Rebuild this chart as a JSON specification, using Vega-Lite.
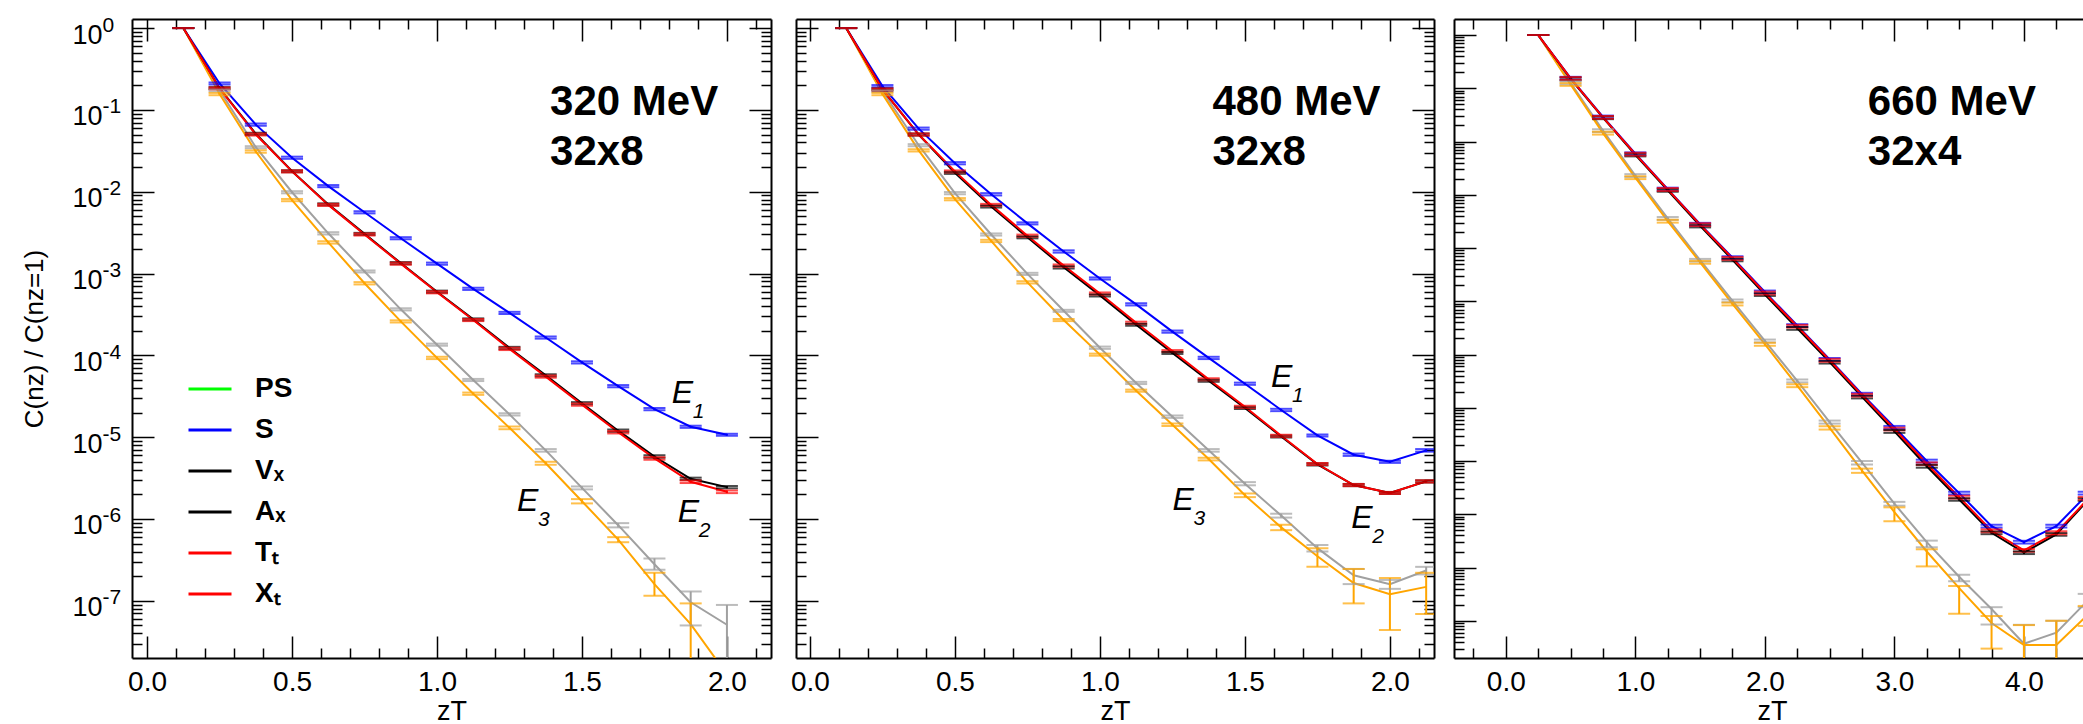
{
"$schema":"https://vega.github.io/schema/vega-lite/v6.json",
"padding":{"left":21,"top":14,"right":0,"bottom":0},
"spacing":18,
"config":{"font":"Liberation Sans","view":{"stroke":null},"axis":{"grid":false,"domainColor":"black","domainWidth":2,"tickColor":"black","tickWidth":1.5,"labelColor":"black","titleColor":"black","labelFont":"Liberation Sans","titleFont":"Liberation Sans","titleFontWeight":"normal","labelOverlap":false,"labelFlush":false,"labelBound":false}},
"resolve":{"scale":{"color":"independent"}},
"datasets":{
"p1":[
{"ch":"G","z":0.125,"v":1,"lo":1,"hi":1},{"ch":"G","z":0.25,"v":0.173,"lo":0.168,"hi":0.178},{"ch":"G","z":0.375,"v":0.035,"lo":0.034,"hi":0.036},{"ch":"G","z":0.5,"v":0.00985,"lo":0.00955,"hi":0.01015},{"ch":"G","z":0.625,"v":0.0031,"lo":0.003,"hi":0.0032},{"ch":"G","z":0.75,"v":0.00106,"lo":0.00103,"hi":0.00109},{"ch":"G","z":0.875,"v":3.65e-4,"lo":3.54e-4,"hi":3.76e-4},{"ch":"G","z":1.0,"v":1.35e-4,"lo":1.31e-4,"hi":1.39e-4},{"ch":"G","z":1.125,"v":5.0e-5,"lo":4.85e-5,"hi":5.15e-5},{"ch":"G","z":1.25,"v":1.9e-5,"lo":1.84e-5,"hi":1.96e-5},{"ch":"G","z":1.375,"v":6.9e-6,"lo":6.65e-6,"hi":7.15e-6},{"ch":"G","z":1.5,"v":2.4e-6,"lo":2.3e-6,"hi":2.5e-6},{"ch":"G","z":1.625,"v":8.4e-7,"lo":7.9e-7,"hi":8.9e-7},{"ch":"G","z":1.75,"v":2.8e-7,"lo":2.4e-7,"hi":3.3e-7},{"ch":"G","z":1.875,"v":9.6e-8,"lo":5.0e-8,"hi":1.3e-7},{"ch":"G","z":2.0,"v":5.1e-8,"lo":1e-9,"hi":8.9e-8},
{"ch":"O","z":0.125,"v":1,"lo":1,"hi":1},{"ch":"O","z":0.25,"v":0.156,"lo":0.151,"hi":0.161},{"ch":"O","z":0.375,"v":0.031,"lo":0.030,"hi":0.032},{"ch":"O","z":0.5,"v":0.0079,"lo":0.00765,"hi":0.00815},{"ch":"O","z":0.625,"v":0.0024,"lo":0.00232,"hi":0.00248},{"ch":"O","z":0.75,"v":7.6e-4,"lo":7.35e-4,"hi":7.85e-4},{"ch":"O","z":0.875,"v":2.6e-4,"lo":2.52e-4,"hi":2.68e-4},{"ch":"O","z":1.0,"v":9.3e-5,"lo":9.0e-5,"hi":9.6e-5},{"ch":"O","z":1.125,"v":3.4e-5,"lo":3.29e-5,"hi":3.51e-5},{"ch":"O","z":1.25,"v":1.3e-5,"lo":1.25e-5,"hi":1.35e-5},{"ch":"O","z":1.375,"v":4.8e-6,"lo":4.6e-6,"hi":5.0e-6},{"ch":"O","z":1.5,"v":1.65e-6,"lo":1.55e-6,"hi":1.75e-6},{"ch":"O","z":1.625,"v":5.6e-7,"lo":5.2e-7,"hi":6.0e-7},{"ch":"O","z":1.75,"v":1.6e-7,"lo":1.15e-7,"hi":2.2e-7},{"ch":"O","z":1.875,"v":5.2e-8,"lo":1e-9,"hi":9.3e-8},{"ch":"O","z":2.0,"v":1.26e-8,"lo":1e-9,"hi":1.8e-8},
{"ch":"S","z":0.125,"v":1,"lo":1,"hi":1},{"ch":"S","z":0.25,"v":0.21,"lo":0.204,"hi":0.216},{"ch":"S","z":0.375,"v":0.066,"lo":0.064,"hi":0.068},{"ch":"S","z":0.5,"v":0.026,"lo":0.0252,"hi":0.0268},{"ch":"S","z":0.625,"v":0.0117,"lo":0.01135,"hi":0.01205},{"ch":"S","z":0.75,"v":0.0056,"lo":0.00543,"hi":0.00577},{"ch":"S","z":0.875,"v":0.0027,"lo":0.00262,"hi":0.00278},{"ch":"S","z":1.0,"v":0.00132,"lo":0.00128,"hi":0.00136},{"ch":"S","z":1.125,"v":6.5e-4,"lo":6.3e-4,"hi":6.7e-4},{"ch":"S","z":1.25,"v":3.3e-4,"lo":3.2e-4,"hi":3.4e-4},{"ch":"S","z":1.375,"v":1.65e-4,"lo":1.6e-4,"hi":1.7e-4},{"ch":"S","z":1.5,"v":8.2e-5,"lo":7.95e-5,"hi":8.45e-5},{"ch":"S","z":1.625,"v":4.2e-5,"lo":4.07e-5,"hi":4.33e-5},{"ch":"S","z":1.75,"v":2.2e-5,"lo":2.13e-5,"hi":2.27e-5},{"ch":"S","z":1.875,"v":1.34e-5,"lo":1.3e-5,"hi":1.38e-5},{"ch":"S","z":2.0,"v":1.07e-5,"lo":1.04e-5,"hi":1.1e-5},
{"ch":"Vₓ","z":0.125,"v":1,"lo":1,"hi":1},{"ch":"Vₓ","z":0.25,"v":0.185,"lo":0.18,"hi":0.19},{"ch":"Vₓ","z":0.375,"v":0.051,"lo":0.0495,"hi":0.0525},{"ch":"Vₓ","z":0.5,"v":0.0178,"lo":0.0173,"hi":0.0183},{"ch":"Vₓ","z":0.625,"v":0.007,"lo":0.0068,"hi":0.0072},{"ch":"Vₓ","z":0.75,"v":0.00305,"lo":0.00296,"hi":0.00314},{"ch":"Vₓ","z":0.875,"v":0.00134,"lo":0.0013,"hi":0.00138},{"ch":"Vₓ","z":1.0,"v":6.0e-4,"lo":5.82e-4,"hi":6.18e-4},{"ch":"Vₓ","z":1.125,"v":2.75e-4,"lo":2.67e-4,"hi":2.83e-4},{"ch":"Vₓ","z":1.25,"v":1.23e-4,"lo":1.19e-4,"hi":1.27e-4},{"ch":"Vₓ","z":1.375,"v":5.7e-5,"lo":5.53e-5,"hi":5.87e-5},{"ch":"Vₓ","z":1.5,"v":2.6e-5,"lo":2.52e-5,"hi":2.68e-5},{"ch":"Vₓ","z":1.625,"v":1.2e-5,"lo":1.16e-5,"hi":1.24e-5},{"ch":"Vₓ","z":1.75,"v":5.8e-6,"lo":5.6e-6,"hi":6.0e-6},{"ch":"Vₓ","z":1.875,"v":3.1e-6,"lo":3.0e-6,"hi":3.2e-6},{"ch":"Vₓ","z":2.0,"v":2.45e-6,"lo":2.37e-6,"hi":2.53e-6},
{"ch":"Tₜ","z":0.125,"v":1,"lo":1,"hi":1},{"ch":"Tₜ","z":0.25,"v":0.183,"lo":0.178,"hi":0.188},{"ch":"Tₜ","z":0.375,"v":0.05,"lo":0.0485,"hi":0.0515},{"ch":"Tₜ","z":0.5,"v":0.0177,"lo":0.0172,"hi":0.0182},{"ch":"Tₜ","z":0.625,"v":0.0069,"lo":0.0067,"hi":0.0071},{"ch":"Tₜ","z":0.75,"v":0.003,"lo":0.00291,"hi":0.00309},{"ch":"Tₜ","z":0.875,"v":0.00132,"lo":0.00128,"hi":0.00136},{"ch":"Tₜ","z":1.0,"v":5.9e-4,"lo":5.72e-4,"hi":6.08e-4},{"ch":"Tₜ","z":1.125,"v":2.7e-4,"lo":2.62e-4,"hi":2.78e-4},{"ch":"Tₜ","z":1.25,"v":1.2e-4,"lo":1.16e-4,"hi":1.24e-4},{"ch":"Tₜ","z":1.375,"v":5.5e-5,"lo":5.33e-5,"hi":5.67e-5},{"ch":"Tₜ","z":1.5,"v":2.5e-5,"lo":2.42e-5,"hi":2.58e-5},{"ch":"Tₜ","z":1.625,"v":1.15e-5,"lo":1.11e-5,"hi":1.19e-5},{"ch":"Tₜ","z":1.75,"v":5.5e-6,"lo":5.3e-6,"hi":5.7e-6},{"ch":"Tₜ","z":1.875,"v":2.85e-6,"lo":2.75e-6,"hi":2.95e-6},{"ch":"Tₜ","z":2.0,"v":2.15e-6,"lo":2.07e-6,"hi":2.23e-6}
],
"p2":[
{"ch":"G","z":0.125,"v":1,"lo":1,"hi":1},{"ch":"G","z":0.25,"v":0.17,"lo":0.165,"hi":0.175},{"ch":"G","z":0.375,"v":0.037,"lo":0.0359,"hi":0.0381},{"ch":"G","z":0.5,"v":0.0096,"lo":0.0093,"hi":0.0099},{"ch":"G","z":0.625,"v":0.003,"lo":0.00291,"hi":0.00309},{"ch":"G","z":0.75,"v":9.9e-4,"lo":9.6e-4,"hi":1.02e-3},{"ch":"G","z":0.875,"v":3.5e-4,"lo":3.4e-4,"hi":3.6e-4},{"ch":"G","z":1.0,"v":1.24e-4,"lo":1.2e-4,"hi":1.28e-4},{"ch":"G","z":1.125,"v":4.6e-5,"lo":4.46e-5,"hi":4.74e-5},{"ch":"G","z":1.25,"v":1.78e-5,"lo":1.72e-5,"hi":1.84e-5},{"ch":"G","z":1.375,"v":6.9e-6,"lo":6.65e-6,"hi":7.15e-6},{"ch":"G","z":1.5,"v":2.7e-6,"lo":2.58e-6,"hi":2.82e-6},{"ch":"G","z":1.625,"v":1.1e-6,"lo":1.04e-6,"hi":1.16e-6},{"ch":"G","z":1.75,"v":4.4e-7,"lo":4.0e-7,"hi":4.8e-7},{"ch":"G","z":1.875,"v":2.05e-7,"lo":1.6e-7,"hi":2.45e-7},{"ch":"G","z":2.0,"v":1.6e-7,"lo":1.4e-7,"hi":1.8e-7},{"ch":"G","z":2.125,"v":2.35e-7,"lo":2.1e-7,"hi":2.6e-7},
{"ch":"O","z":0.125,"v":1,"lo":1,"hi":1},{"ch":"O","z":0.25,"v":0.156,"lo":0.151,"hi":0.161},{"ch":"O","z":0.375,"v":0.032,"lo":0.031,"hi":0.033},{"ch":"O","z":0.5,"v":0.0081,"lo":0.00785,"hi":0.00835},{"ch":"O","z":0.625,"v":0.0025,"lo":0.00242,"hi":0.00258},{"ch":"O","z":0.75,"v":7.8e-4,"lo":7.55e-4,"hi":8.05e-4},{"ch":"O","z":0.875,"v":2.7e-4,"lo":2.62e-4,"hi":2.78e-4},{"ch":"O","z":1.0,"v":1.02e-4,"lo":9.9e-5,"hi":1.05e-4},{"ch":"O","z":1.125,"v":3.7e-5,"lo":3.59e-5,"hi":3.81e-5},{"ch":"O","z":1.25,"v":1.42e-5,"lo":1.37e-5,"hi":1.47e-5},{"ch":"O","z":1.375,"v":5.4e-6,"lo":5.2e-6,"hi":5.6e-6},{"ch":"O","z":1.5,"v":1.95e-6,"lo":1.85e-6,"hi":2.05e-6},{"ch":"O","z":1.625,"v":7.9e-7,"lo":7.3e-7,"hi":8.5e-7},{"ch":"O","z":1.75,"v":3.5e-7,"lo":2.6e-7,"hi":4.4e-7},{"ch":"O","z":1.875,"v":1.65e-7,"lo":9.3e-8,"hi":2.45e-7},{"ch":"O","z":2.0,"v":1.2e-7,"lo":4.4e-8,"hi":1.9e-7},{"ch":"O","z":2.125,"v":1.48e-7,"lo":6.9e-8,"hi":2.2e-7},
{"ch":"S","z":0.125,"v":1,"lo":1,"hi":1},{"ch":"S","z":0.25,"v":0.195,"lo":0.189,"hi":0.201},{"ch":"S","z":0.375,"v":0.059,"lo":0.0572,"hi":0.0608},{"ch":"S","z":0.5,"v":0.0223,"lo":0.0216,"hi":0.023},{"ch":"S","z":0.625,"v":0.0093,"lo":0.009,"hi":0.0096},{"ch":"S","z":0.75,"v":0.0041,"lo":0.00398,"hi":0.00422},{"ch":"S","z":0.875,"v":0.00186,"lo":0.0018,"hi":0.00192},{"ch":"S","z":1.0,"v":8.7e-4,"lo":8.44e-4,"hi":8.96e-4},{"ch":"S","z":1.125,"v":4.2e-4,"lo":4.07e-4,"hi":4.33e-4},{"ch":"S","z":1.25,"v":1.95e-4,"lo":1.89e-4,"hi":2.01e-4},{"ch":"S","z":1.375,"v":9.3e-5,"lo":9.0e-5,"hi":9.6e-5},{"ch":"S","z":1.5,"v":4.5e-5,"lo":4.36e-5,"hi":4.64e-5},{"ch":"S","z":1.625,"v":2.15e-5,"lo":2.08e-5,"hi":2.22e-5},{"ch":"S","z":1.75,"v":1.05e-5,"lo":1.02e-5,"hi":1.08e-5},{"ch":"S","z":1.875,"v":6.1e-6,"lo":5.9e-6,"hi":6.3e-6},{"ch":"S","z":2.0,"v":5.0e-6,"lo":4.85e-6,"hi":5.15e-6},{"ch":"S","z":2.125,"v":6.9e-6,"lo":6.65e-6,"hi":7.15e-6},
{"ch":"Vₓ","z":0.125,"v":1,"lo":1,"hi":1},{"ch":"Vₓ","z":0.25,"v":0.178,"lo":0.173,"hi":0.183},{"ch":"Vₓ","z":0.375,"v":0.05,"lo":0.0485,"hi":0.0515},{"ch":"Vₓ","z":0.5,"v":0.017,"lo":0.0165,"hi":0.0175},{"ch":"Vₓ","z":0.625,"v":0.0066,"lo":0.0064,"hi":0.0068},{"ch":"Vₓ","z":0.75,"v":0.00277,"lo":0.00269,"hi":0.00285},{"ch":"Vₓ","z":0.875,"v":0.00119,"lo":0.00115,"hi":0.00123},{"ch":"Vₓ","z":1.0,"v":5.4e-4,"lo":5.24e-4,"hi":5.56e-4},{"ch":"Vₓ","z":1.125,"v":2.37e-4,"lo":2.3e-4,"hi":2.44e-4},{"ch":"Vₓ","z":1.25,"v":1.07e-4,"lo":1.04e-4,"hi":1.1e-4},{"ch":"Vₓ","z":1.375,"v":4.9e-5,"lo":4.75e-5,"hi":5.05e-5},{"ch":"Vₓ","z":1.5,"v":2.28e-5,"lo":2.21e-5,"hi":2.35e-5},{"ch":"Vₓ","z":1.625,"v":1.02e-5,"lo":9.9e-6,"hi":1.05e-5},{"ch":"Vₓ","z":1.75,"v":4.65e-6,"lo":4.51e-6,"hi":4.79e-6},{"ch":"Vₓ","z":1.875,"v":2.6e-6,"lo":2.52e-6,"hi":2.68e-6},{"ch":"Vₓ","z":2.0,"v":2.08e-6,"lo":2.02e-6,"hi":2.14e-6},{"ch":"Vₓ","z":2.125,"v":2.88e-6,"lo":2.79e-6,"hi":2.97e-6},
{"ch":"Tₜ","z":0.125,"v":1,"lo":1,"hi":1},{"ch":"Tₜ","z":0.25,"v":0.178,"lo":0.173,"hi":0.183},{"ch":"Tₜ","z":0.375,"v":0.05,"lo":0.0485,"hi":0.0515},{"ch":"Tₜ","z":0.5,"v":0.0177,"lo":0.0172,"hi":0.0182},{"ch":"Tₜ","z":0.625,"v":0.0069,"lo":0.0067,"hi":0.0071},{"ch":"Tₜ","z":0.75,"v":0.0029,"lo":0.00281,"hi":0.00299},{"ch":"Tₜ","z":0.875,"v":0.00125,"lo":0.00121,"hi":0.00129},{"ch":"Tₜ","z":1.0,"v":5.7e-4,"lo":5.53e-4,"hi":5.87e-4},{"ch":"Tₜ","z":1.125,"v":2.5e-4,"lo":2.42e-4,"hi":2.58e-4},{"ch":"Tₜ","z":1.25,"v":1.13e-4,"lo":1.1e-4,"hi":1.16e-4},{"ch":"Tₜ","z":1.375,"v":5.1e-5,"lo":4.95e-5,"hi":5.25e-5},{"ch":"Tₜ","z":1.5,"v":2.35e-5,"lo":2.28e-5,"hi":2.42e-5},{"ch":"Tₜ","z":1.625,"v":1.04e-5,"lo":1.01e-5,"hi":1.07e-5},{"ch":"Tₜ","z":1.75,"v":4.7e-6,"lo":4.56e-6,"hi":4.84e-6},{"ch":"Tₜ","z":1.875,"v":2.6e-6,"lo":2.52e-6,"hi":2.68e-6},{"ch":"Tₜ","z":2.0,"v":2.08e-6,"lo":2.02e-6,"hi":2.14e-6},{"ch":"Tₜ","z":2.125,"v":2.88e-6,"lo":2.79e-6,"hi":2.97e-6}
],
"p3":[
{"ch":"G","z":0.25,"v":1,"lo":1,"hi":1},{"ch":"G","z":0.5,"v":0.126,"lo":0.118,"hi":0.134},{"ch":"G","z":0.75,"v":0.016,"lo":0.015,"hi":0.017},{"ch":"G","z":1.0,"v":0.0023,"lo":0.00216,"hi":0.00244},{"ch":"G","z":1.25,"v":3.6e-4,"lo":3.38e-4,"hi":3.82e-4},{"ch":"G","z":1.5,"v":5.9e-5,"lo":5.55e-5,"hi":6.25e-5},{"ch":"G","z":1.75,"v":1.02e-5,"lo":9.6e-6,"hi":1.08e-5},{"ch":"G","z":2.0,"v":1.8e-6,"lo":1.69e-6,"hi":1.91e-6},{"ch":"G","z":2.25,"v":3.2e-7,"lo":3.0e-7,"hi":3.4e-7},{"ch":"G","z":2.5,"v":5.4e-8,"lo":5.05e-8,"hi":5.75e-8},{"ch":"G","z":2.75,"v":9.3e-9,"lo":8.6e-9,"hi":1.0e-8},{"ch":"G","z":3.0,"v":1.58e-9,"lo":1.45e-9,"hi":1.71e-9},{"ch":"G","z":3.25,"v":3.0e-10,"lo":2.4e-10,"hi":3.2e-10},{"ch":"G","z":3.5,"v":6.7e-11,"lo":5.5e-11,"hi":7.3e-11},{"ch":"G","z":3.75,"v":1.66e-11,"lo":8.5e-12,"hi":1.8e-11},{"ch":"G","z":4.0,"v":3.7e-12,"lo":1e-13,"hi":8.4e-12},{"ch":"G","z":4.25,"v":6.0e-12,"lo":1e-13,"hi":1.0e-11},{"ch":"G","z":4.5,"v":2.5e-11,"lo":1.8e-11,"hi":3.2e-11},
{"ch":"O","z":0.25,"v":1,"lo":1,"hi":1},{"ch":"O","z":0.5,"v":0.118,"lo":0.111,"hi":0.125},{"ch":"O","z":0.75,"v":0.0144,"lo":0.0135,"hi":0.0153},{"ch":"O","z":1.0,"v":0.0021,"lo":0.00197,"hi":0.00223},{"ch":"O","z":1.25,"v":3.2e-4,"lo":3.0e-4,"hi":3.4e-4},{"ch":"O","z":1.5,"v":5.4e-5,"lo":5.07e-5,"hi":5.73e-5},{"ch":"O","z":1.75,"v":8.9e-6,"lo":8.36e-6,"hi":9.44e-6},{"ch":"O","z":2.0,"v":1.56e-6,"lo":1.46e-6,"hi":1.66e-6},{"ch":"O","z":2.25,"v":2.6e-7,"lo":2.44e-7,"hi":2.76e-7},{"ch":"O","z":2.5,"v":4.2e-8,"lo":3.9e-8,"hi":4.5e-8},{"ch":"O","z":2.75,"v":6.6e-9,"lo":6.0e-9,"hi":7.2e-9},{"ch":"O","z":3.0,"v":1.1e-9,"lo":7.4e-10,"hi":1.35e-9},{"ch":"O","z":3.25,"v":2.0e-10,"lo":1.05e-10,"hi":2.2e-10},{"ch":"O","z":3.5,"v":4.1e-11,"lo":1.35e-11,"hi":4.5e-11},{"ch":"O","z":3.75,"v":9.1e-12,"lo":3.0e-12,"hi":1.23e-11},{"ch":"O","z":4.0,"v":3.5e-12,"lo":1e-13,"hi":8.3e-12},{"ch":"O","z":4.25,"v":3.5e-12,"lo":1e-13,"hi":1.0e-11},{"ch":"O","z":4.5,"v":1.35e-11,"lo":8e-12,"hi":1.9e-11},
{"ch":"S","z":0.25,"v":1,"lo":1,"hi":1},{"ch":"S","z":0.5,"v":0.155,"lo":0.146,"hi":0.164},{"ch":"S","z":0.75,"v":0.029,"lo":0.0273,"hi":0.0307},{"ch":"S","z":1.0,"v":0.0059,"lo":0.00555,"hi":0.00625},{"ch":"S","z":1.25,"v":0.00128,"lo":0.0012,"hi":0.00136},{"ch":"S","z":1.5,"v":2.8e-4,"lo":2.63e-4,"hi":2.97e-4},{"ch":"S","z":1.75,"v":6.6e-5,"lo":6.2e-5,"hi":7.0e-5},{"ch":"S","z":2.0,"v":1.5e-5,"lo":1.41e-5,"hi":1.59e-5},{"ch":"S","z":2.25,"v":3.5e-6,"lo":3.29e-6,"hi":3.71e-6},{"ch":"S","z":2.5,"v":8.1e-7,"lo":7.6e-7,"hi":8.6e-7},{"ch":"S","z":2.75,"v":1.8e-7,"lo":1.69e-7,"hi":1.91e-7},{"ch":"S","z":3.0,"v":4.3e-8,"lo":4.04e-8,"hi":4.56e-8},{"ch":"S","z":3.25,"v":1.0e-8,"lo":9.4e-9,"hi":1.06e-8},{"ch":"S","z":3.5,"v":2.5e-9,"lo":2.35e-9,"hi":2.65e-9},{"ch":"S","z":3.75,"v":6.0e-10,"lo":5.64e-10,"hi":6.36e-10},{"ch":"S","z":4.0,"v":3.0e-10,"lo":2.82e-10,"hi":3.18e-10},{"ch":"S","z":4.25,"v":6.0e-10,"lo":5.64e-10,"hi":6.36e-10},{"ch":"S","z":4.5,"v":2.5e-9,"lo":2.35e-9,"hi":2.65e-9},
{"ch":"Vₓ","z":0.25,"v":1,"lo":1,"hi":1},{"ch":"Vₓ","z":0.5,"v":0.15,"lo":0.141,"hi":0.159},{"ch":"Vₓ","z":0.75,"v":0.028,"lo":0.0263,"hi":0.0297},{"ch":"Vₓ","z":1.0,"v":0.0056,"lo":0.00526,"hi":0.00594},{"ch":"Vₓ","z":1.25,"v":0.00121,"lo":0.00114,"hi":0.00128},{"ch":"Vₓ","z":1.5,"v":2.6e-4,"lo":2.44e-4,"hi":2.76e-4},{"ch":"Vₓ","z":1.75,"v":6.0e-5,"lo":5.64e-5,"hi":6.36e-5},{"ch":"Vₓ","z":2.0,"v":1.34e-5,"lo":1.26e-5,"hi":1.42e-5},{"ch":"Vₓ","z":2.25,"v":3.1e-6,"lo":2.91e-6,"hi":3.29e-6},{"ch":"Vₓ","z":2.5,"v":7.2e-7,"lo":6.77e-7,"hi":7.63e-7},{"ch":"Vₓ","z":2.75,"v":1.6e-7,"lo":1.5e-7,"hi":1.7e-7},{"ch":"Vₓ","z":3.0,"v":3.6e-8,"lo":3.38e-8,"hi":3.82e-8},{"ch":"Vₓ","z":3.25,"v":8.0e-9,"lo":7.5e-9,"hi":8.5e-9},{"ch":"Vₓ","z":3.5,"v":1.9e-9,"lo":1.79e-9,"hi":2.01e-9},{"ch":"Vₓ","z":3.75,"v":4.5e-10,"lo":4.23e-10,"hi":4.77e-10},{"ch":"Vₓ","z":4.0,"v":1.9e-10,"lo":1.79e-10,"hi":2.01e-10},{"ch":"Vₓ","z":4.25,"v":4.2e-10,"lo":3.95e-10,"hi":4.45e-10},{"ch":"Vₓ","z":4.5,"v":1.9e-9,"lo":1.79e-9,"hi":2.01e-9},
{"ch":"Tₜ","z":0.25,"v":1,"lo":1,"hi":1},{"ch":"Tₜ","z":0.5,"v":0.153,"lo":0.144,"hi":0.162},{"ch":"Tₜ","z":0.75,"v":0.0285,"lo":0.0268,"hi":0.0302},{"ch":"Tₜ","z":1.0,"v":0.0058,"lo":0.00545,"hi":0.00615},{"ch":"Tₜ","z":1.25,"v":0.00126,"lo":0.00118,"hi":0.00134},{"ch":"Tₜ","z":1.5,"v":2.75e-4,"lo":2.59e-4,"hi":2.92e-4},{"ch":"Tₜ","z":1.75,"v":6.4e-5,"lo":6.0e-5,"hi":6.8e-5},{"ch":"Tₜ","z":2.0,"v":1.43e-5,"lo":1.34e-5,"hi":1.52e-5},{"ch":"Tₜ","z":2.25,"v":3.4e-6,"lo":3.2e-6,"hi":3.6e-6},{"ch":"Tₜ","z":2.5,"v":7.8e-7,"lo":7.3e-7,"hi":8.3e-7},{"ch":"Tₜ","z":2.75,"v":1.73e-7,"lo":1.63e-7,"hi":1.83e-7},{"ch":"Tₜ","z":3.0,"v":4.0e-8,"lo":3.76e-8,"hi":4.24e-8},{"ch":"Tₜ","z":3.25,"v":8.9e-9,"lo":8.4e-9,"hi":9.4e-9},{"ch":"Tₜ","z":3.5,"v":2.1e-9,"lo":1.97e-9,"hi":2.23e-9},{"ch":"Tₜ","z":3.75,"v":4.9e-10,"lo":4.6e-10,"hi":5.2e-10},{"ch":"Tₜ","z":4.0,"v":2.1e-10,"lo":1.97e-10,"hi":2.23e-10},{"ch":"Tₜ","z":4.25,"v":4.5e-10,"lo":4.2e-10,"hi":4.8e-10},{"ch":"Tₜ","z":4.5,"v":2.0e-9,"lo":1.88e-9,"hi":2.12e-9}
],
"a1":[{"k":"b","z":1.39,"v":0.087,"t":"320 MeV"},{"k":"b","z":1.39,"v":0.021,"t":"32x8"},{"k":"e","z":1.81,"v":2.63e-5,"t":"E","s":"1"},{"k":"e","z":1.83,"v":9.1e-7,"t":"E","s":"2"},{"k":"e","z":1.276,"v":1.26e-6,"t":"E","s":"3"}],
"a2":[{"k":"b","z":1.388,"v":0.087,"t":"480 MeV"},{"k":"b","z":1.388,"v":0.021,"t":"32x8"},{"k":"e","z":1.59,"v":4.07e-5,"t":"E","s":"1"},{"k":"e","z":1.867,"v":7.8e-7,"t":"E","s":"2"},{"k":"e","z":1.25,"v":1.29e-6,"t":"E","s":"3"}],
"a3":[{"k":"b","z":2.795,"v":0.0319,"t":"660 MeV"},{"k":"b","z":2.795,"v":0.0036,"t":"32x4"}]
},
"hconcat":[
{
"width":639,"height":639,
"data":{"name":"p1"},
"resolve":{"axis":{"x":"independent","y":"independent"}},
"layer":[
{"mark":{"type":"line","strokeWidth":2,"clip":true},
"encoding":{
"x":{"field":"z","type":"quantitative","scale":{"domain":[-0.052,2.152],"zero":false,"nice":false},"axis":{"orient":"bottom","values":[0,0.5,1,1.5,2],"format":".1f","ticks":false,"domain":true,"labelFontSize":28,"labelPadding":10,"title":"zT","titleFontSize":27,"titlePadding":2}},
"y":{"field":"v","type":"quantitative","scale":{"type":"log","domain":[2e-8,1.29],"nice":false},"axis":{"orient":"left","values":[1,0.1,0.01,1e-3,1e-4,1e-5,1e-6,1e-7],"labelExpr":"'10'","ticks":false,"domain":true,"labelFontSize":27,"labelPadding":30,"labelAlign":"right","labelBaseline":"middle","labelOffset":7,"title":"C(nz) / C(nz=1)","titleFontSize":26,"titlePadding":24}},
"color":{"field":"ch","type":"nominal","scale":{"domain":["PS","S","Vₓ","Aₓ","Tₜ","Xₜ","G","O"],"range":["#00ff00","#0000ff","#000000","#000000","#ff0000","#ff0000","#a0a0a0","#ffa500"]},"legend":{"orient":"none","legendX":55,"legendY":347,"values":["PS","S","Vₓ","Aₓ","Tₜ","Xₜ"],"title":null,"symbolType":"stroke","symbolSize":1849,"symbolStrokeWidth":3,"labelFontSize":28,"labelFontWeight":"bold","labelFont":"Liberation Sans","labelColor":"black","labelOffset":22,"rowPadding":4,"padding":0}}
}},
{"mark":{"type":"rule","strokeWidth":2,"clip":true},
"encoding":{
"x":{"field":"z","type":"quantitative","scale":{"domain":[-0.052,2.152],"zero":false,"nice":false},"axis":{"orient":"top","values":[0,0.1,0.2,0.3,0.4,0.5,0.6,0.7,0.8,0.9,1,1.1,1.2,1.3,1.4,1.5,1.6,1.7,1.8,1.9,2,2.1],"labels":false,"title":null,"domain":true,"tickSize":{"condition":{"test":"abs(datum.value*2-round(datum.value*2))<1e-6","value":-22},"value":-10}}},
"y":{"field":"lo","type":"quantitative","scale":{"type":"log","domain":[2e-8,1.29],"nice":false},"axis":{"orient":"right","values":[1,0.9,0.8,0.7,0.6,0.5,0.4,0.3,0.2,0.1,0.09,0.08,0.07,0.06,0.05,0.04,0.03,0.02,0.01,0.009,0.008,0.007,0.006,0.005,0.004,0.003,0.002,0.001,9e-4,8e-4,7e-4,6e-4,5e-4,4e-4,3e-4,2e-4,1e-4,9e-5,8e-5,7e-5,6e-5,5e-5,4e-5,3e-5,2e-5,1e-5,9e-6,8e-6,7e-6,6e-6,5e-6,4e-6,3e-6,2e-6,1e-6,9e-7,8e-7,7e-7,6e-7,5e-7,4e-7,3e-7,2e-7,1e-7,9e-8,8e-8,7e-8,6e-8,5e-8,4e-8,3e-8],"labels":false,"title":null,"domain":true,"tickSize":{"condition":{"test":"abs(log(datum.value)/LN10-round(log(datum.value)/LN10))<1e-6","value":-22},"value":-10}}},
"y2":{"field":"hi"},
"color":{"field":"ch","type":"nominal","scale":{"domain":["PS","S","Vₓ","Aₓ","Tₜ","Xₜ","G","O"],"range":["#00ff00","#0000ff","#000000","#000000","#ff0000","#ff0000","#a0a0a0","#ffa500"]},"legend":null}
}},
{"mark":{"type":"tick","orient":"horizontal","size":22,"thickness":2,"clip":true},
"encoding":{
"x":{"field":"z","type":"quantitative","scale":{"domain":[-0.052,2.152],"zero":false,"nice":false},"axis":{"orient":"bottom","values":[0,0.1,0.2,0.3,0.4,0.5,0.6,0.7,0.8,0.9,1,1.1,1.2,1.3,1.4,1.5,1.6,1.7,1.8,1.9,2,2.1],"labels":false,"title":null,"domain":false,"tickSize":{"condition":{"test":"abs(datum.value*2-round(datum.value*2))<1e-6","value":-22},"value":-10}}},
"y":{"field":"lo","type":"quantitative","scale":{"type":"log","domain":[2e-8,1.29],"nice":false},"axis":{"orient":"left","values":[1,0.9,0.8,0.7,0.6,0.5,0.4,0.3,0.2,0.1,0.09,0.08,0.07,0.06,0.05,0.04,0.03,0.02,0.01,0.009,0.008,0.007,0.006,0.005,0.004,0.003,0.002,0.001,9e-4,8e-4,7e-4,6e-4,5e-4,4e-4,3e-4,2e-4,1e-4,9e-5,8e-5,7e-5,6e-5,5e-5,4e-5,3e-5,2e-5,1e-5,9e-6,8e-6,7e-6,6e-6,5e-6,4e-6,3e-6,2e-6,1e-6,9e-7,8e-7,7e-7,6e-7,5e-7,4e-7,3e-7,2e-7,1e-7,9e-8,8e-8,7e-8,6e-8,5e-8,4e-8,3e-8],"labels":false,"title":null,"domain":false,"tickSize":{"condition":{"test":"abs(log(datum.value)/LN10-round(log(datum.value)/LN10))<1e-6","value":-22},"value":-10}}},
"color":{"field":"ch","type":"nominal","scale":{"domain":["PS","S","Vₓ","Aₓ","Tₜ","Xₜ","G","O"],"range":["#00ff00","#0000ff","#000000","#000000","#ff0000","#ff0000","#a0a0a0","#ffa500"]},"legend":null}
}},
{"mark":{"type":"tick","orient":"horizontal","size":22,"thickness":2,"clip":true},
"encoding":{
"x":{"field":"z","type":"quantitative","scale":{"domain":[-0.052,2.152],"zero":false,"nice":false},"axis":null},
"y":{"field":"hi","type":"quantitative","scale":{"type":"log","domain":[2e-8,1.29],"nice":false},"axis":{"orient":"left","values":[1,0.1,0.01,1e-3,1e-4,1e-5,1e-6,1e-7],"labelExpr":"datum.value >= 0.5 ? '0' : '-' + round(-log(datum.value)/LN10)","ticks":false,"domain":false,"labelFontSize":21,"labelPadding":30,"labelAlign":"left","labelBaseline":"middle","labelOffset":-3,"title":null}},
"color":{"field":"ch","type":"nominal","scale":{"domain":["PS","S","Vₓ","Aₓ","Tₜ","Xₜ","G","O"],"range":["#00ff00","#0000ff","#000000","#000000","#ff0000","#ff0000","#a0a0a0","#ffa500"]},"legend":null}
}},
{"data":{"name":"a1"},"transform":[{"filter":"datum.k == 'b'"}],
"mark":{"type":"text","align":"left","baseline":"alphabetic","fontSize":42,"fontWeight":"bold","color":"black"},
"encoding":{"x":{"field":"z","type":"quantitative","axis":null},"y":{"field":"v","type":"quantitative","axis":null},"text":{"field":"t"}}},
{"data":{"name":"a1"},"transform":[{"filter":"datum.k == 'e'"}],
"mark":{"type":"text","align":"left","baseline":"alphabetic","fontSize":32,"fontStyle":"italic","color":"black"},
"encoding":{"x":{"field":"z","type":"quantitative","axis":null},"y":{"field":"v","type":"quantitative","axis":null},"text":{"field":"t"}}},
{"data":{"name":"a1"},"transform":[{"filter":"datum.k == 'e'"}],
"mark":{"type":"text","align":"left","baseline":"alphabetic","fontSize":21,"fontStyle":"italic","color":"black","dx":21,"dy":15},
"encoding":{"x":{"field":"z","type":"quantitative","axis":null},"y":{"field":"v","type":"quantitative","axis":null},"text":{"field":"s"}}}
]
},
{
"width":638,"height":639,
"data":{"name":"p2"},
"resolve":{"axis":{"x":"independent","y":"independent"}},
"layer":[
{"mark":{"type":"line","strokeWidth":2,"clip":true},
"encoding":{
"x":{"field":"z","type":"quantitative","scale":{"domain":[-0.048,2.152],"zero":false,"nice":false},"axis":{"orient":"bottom","values":[0,0.5,1,1.5,2],"format":".1f","ticks":false,"domain":true,"labelFontSize":28,"labelPadding":10,"title":"zT","titleFontSize":27,"titlePadding":2}},
"y":{"field":"v","type":"quantitative","scale":{"type":"log","domain":[2e-8,1.29],"nice":false},"axis":{"orient":"left","values":[1,0.9,0.8,0.7,0.6,0.5,0.4,0.3,0.2,0.1,0.09,0.08,0.07,0.06,0.05,0.04,0.03,0.02,0.01,0.009,0.008,0.007,0.006,0.005,0.004,0.003,0.002,0.001,9e-4,8e-4,7e-4,6e-4,5e-4,4e-4,3e-4,2e-4,1e-4,9e-5,8e-5,7e-5,6e-5,5e-5,4e-5,3e-5,2e-5,1e-5,9e-6,8e-6,7e-6,6e-6,5e-6,4e-6,3e-6,2e-6,1e-6,9e-7,8e-7,7e-7,6e-7,5e-7,4e-7,3e-7,2e-7,1e-7,9e-8,8e-8,7e-8,6e-8,5e-8,4e-8,3e-8],"labels":false,"title":null,"domain":true,"tickSize":{"condition":{"test":"abs(log(datum.value)/LN10-round(log(datum.value)/LN10))<1e-6","value":-22},"value":-10}}},
"color":{"field":"ch","type":"nominal","scale":{"domain":["PS","S","Vₓ","Aₓ","Tₜ","Xₜ","G","O"],"range":["#00ff00","#0000ff","#000000","#000000","#ff0000","#ff0000","#a0a0a0","#ffa500"]},"legend":null}
}},
{"mark":{"type":"rule","strokeWidth":2,"clip":true},
"encoding":{
"x":{"field":"z","type":"quantitative","scale":{"domain":[-0.048,2.152],"zero":false,"nice":false},"axis":{"orient":"top","values":[0,0.1,0.2,0.3,0.4,0.5,0.6,0.7,0.8,0.9,1,1.1,1.2,1.3,1.4,1.5,1.6,1.7,1.8,1.9,2,2.1],"labels":false,"title":null,"domain":true,"tickSize":{"condition":{"test":"abs(datum.value*2-round(datum.value*2))<1e-6","value":-22},"value":-10}}},
"y":{"field":"lo","type":"quantitative","scale":{"type":"log","domain":[2e-8,1.29],"nice":false},"axis":{"orient":"right","values":[1,0.9,0.8,0.7,0.6,0.5,0.4,0.3,0.2,0.1,0.09,0.08,0.07,0.06,0.05,0.04,0.03,0.02,0.01,0.009,0.008,0.007,0.006,0.005,0.004,0.003,0.002,0.001,9e-4,8e-4,7e-4,6e-4,5e-4,4e-4,3e-4,2e-4,1e-4,9e-5,8e-5,7e-5,6e-5,5e-5,4e-5,3e-5,2e-5,1e-5,9e-6,8e-6,7e-6,6e-6,5e-6,4e-6,3e-6,2e-6,1e-6,9e-7,8e-7,7e-7,6e-7,5e-7,4e-7,3e-7,2e-7,1e-7,9e-8,8e-8,7e-8,6e-8,5e-8,4e-8,3e-8],"labels":false,"title":null,"domain":true,"tickSize":{"condition":{"test":"abs(log(datum.value)/LN10-round(log(datum.value)/LN10))<1e-6","value":-22},"value":-10}}},
"y2":{"field":"hi"},
"color":{"field":"ch","type":"nominal","scale":{"domain":["PS","S","Vₓ","Aₓ","Tₜ","Xₜ","G","O"],"range":["#00ff00","#0000ff","#000000","#000000","#ff0000","#ff0000","#a0a0a0","#ffa500"]},"legend":null}
}},
{"mark":{"type":"tick","orient":"horizontal","size":22,"thickness":2,"clip":true},
"encoding":{
"x":{"field":"z","type":"quantitative","scale":{"domain":[-0.048,2.152],"zero":false,"nice":false},"axis":{"orient":"bottom","values":[0,0.1,0.2,0.3,0.4,0.5,0.6,0.7,0.8,0.9,1,1.1,1.2,1.3,1.4,1.5,1.6,1.7,1.8,1.9,2,2.1],"labels":false,"title":null,"domain":false,"tickSize":{"condition":{"test":"abs(datum.value*2-round(datum.value*2))<1e-6","value":-22},"value":-10}}},
"y":{"field":"lo","type":"quantitative","scale":{"type":"log","domain":[2e-8,1.29],"nice":false},"axis":null},
"color":{"field":"ch","type":"nominal","scale":{"domain":["PS","S","Vₓ","Aₓ","Tₜ","Xₜ","G","O"],"range":["#00ff00","#0000ff","#000000","#000000","#ff0000","#ff0000","#a0a0a0","#ffa500"]},"legend":null}
}},
{"mark":{"type":"tick","orient":"horizontal","size":22,"thickness":2,"clip":true},
"encoding":{
"x":{"field":"z","type":"quantitative","scale":{"domain":[-0.048,2.152],"zero":false,"nice":false},"axis":null},
"y":{"field":"hi","type":"quantitative","scale":{"type":"log","domain":[2e-8,1.29],"nice":false},"axis":null},
"color":{"field":"ch","type":"nominal","scale":{"domain":["PS","S","Vₓ","Aₓ","Tₜ","Xₜ","G","O"],"range":["#00ff00","#0000ff","#000000","#000000","#ff0000","#ff0000","#a0a0a0","#ffa500"]},"legend":null}
}},
{"data":{"name":"a2"},"transform":[{"filter":"datum.k == 'b'"}],
"mark":{"type":"text","align":"left","baseline":"alphabetic","fontSize":42,"fontWeight":"bold","color":"black"},
"encoding":{"x":{"field":"z","type":"quantitative","axis":null},"y":{"field":"v","type":"quantitative","axis":null},"text":{"field":"t"}}},
{"data":{"name":"a2"},"transform":[{"filter":"datum.k == 'e'"}],
"mark":{"type":"text","align":"left","baseline":"alphabetic","fontSize":32,"fontStyle":"italic","color":"black"},
"encoding":{"x":{"field":"z","type":"quantitative","axis":null},"y":{"field":"v","type":"quantitative","axis":null},"text":{"field":"t"}}},
{"data":{"name":"a2"},"transform":[{"filter":"datum.k == 'e'"}],
"mark":{"type":"text","align":"left","baseline":"alphabetic","fontSize":21,"fontStyle":"italic","color":"black","dx":21,"dy":15},
"encoding":{"x":{"field":"z","type":"quantitative","axis":null},"y":{"field":"v","type":"quantitative","axis":null},"text":{"field":"s"}}}
]
},
{
"width":636,"height":639,
"data":{"name":"p3"},
"resolve":{"axis":{"x":"independent","y":"independent"}},
"layer":[
{"mark":{"type":"line","strokeWidth":2,"clip":true},
"encoding":{
"x":{"field":"z","type":"quantitative","scale":{"domain":[-0.40,4.51],"zero":false,"nice":false},"axis":{"orient":"bottom","values":[0,1,2,3,4],"format":".1f","ticks":false,"domain":true,"labelFontSize":28,"labelPadding":10,"title":"zT","titleFontSize":27,"titlePadding":2}},
"y":{"field":"v","type":"quantitative","scale":{"type":"log","domain":[2e-12,2],"nice":false},"axis":{"orient":"left","values":[1,0.9,0.8,0.7,0.6,0.5,0.4,0.3,0.2,0.1,0.09,0.08,0.07,0.06,0.05,0.04,0.03,0.02,0.01,0.009,0.008,0.007,0.006,0.005,0.004,0.003,0.002,0.001,9e-4,8e-4,7e-4,6e-4,5e-4,4e-4,3e-4,2e-4,1e-4,9e-5,8e-5,7e-5,6e-5,5e-5,4e-5,3e-5,2e-5,1e-5,9e-6,8e-6,7e-6,6e-6,5e-6,4e-6,3e-6,2e-6,1e-6,9e-7,8e-7,7e-7,6e-7,5e-7,4e-7,3e-7,2e-7,1e-7,9e-8,8e-8,7e-8,6e-8,5e-8,4e-8,3e-8,2e-8,1e-8,9e-9,8e-9,7e-9,6e-9,5e-9,4e-9,3e-9,2e-9,1e-9,9e-10,8e-10,7e-10,6e-10,5e-10,4e-10,3e-10,2e-10,1e-10,9e-11,8e-11,7e-11,6e-11,5e-11,4e-11,3e-11,2e-11,1e-11,9e-12,8e-12,7e-12,6e-12,5e-12,4e-12,3e-12],"labels":false,"title":null,"domain":true,"tickSize":{"condition":{"test":"abs(log(datum.value)/LN10-round(log(datum.value)/LN10))<1e-6","value":-22},"value":-10}}},
"color":{"field":"ch","type":"nominal","scale":{"domain":["PS","S","Vₓ","Aₓ","Tₜ","Xₜ","G","O"],"range":["#00ff00","#0000ff","#000000","#000000","#ff0000","#ff0000","#a0a0a0","#ffa500"]},"legend":null}
}},
{"mark":{"type":"rule","strokeWidth":2,"clip":true},
"encoding":{
"x":{"field":"z","type":"quantitative","scale":{"domain":[-0.40,4.51],"zero":false,"nice":false},"axis":{"orient":"top","values":[-0.25,0,0.25,0.5,0.75,1,1.25,1.5,1.75,2,2.25,2.5,2.75,3,3.25,3.5,3.75,4,4.25,4.5],"labels":false,"title":null,"domain":true,"tickSize":{"condition":{"test":"abs(datum.value-round(datum.value))<1e-6","value":-22},"value":-10}}},
"y":{"field":"lo","type":"quantitative","scale":{"type":"log","domain":[2e-12,2],"nice":false},"axis":null},
"y2":{"field":"hi"},
"color":{"field":"ch","type":"nominal","scale":{"domain":["PS","S","Vₓ","Aₓ","Tₜ","Xₜ","G","O"],"range":["#00ff00","#0000ff","#000000","#000000","#ff0000","#ff0000","#a0a0a0","#ffa500"]},"legend":null}
}},
{"mark":{"type":"tick","orient":"horizontal","size":22,"thickness":2,"clip":true},
"encoding":{
"x":{"field":"z","type":"quantitative","scale":{"domain":[-0.40,4.51],"zero":false,"nice":false},"axis":{"orient":"bottom","values":[-0.25,0,0.25,0.5,0.75,1,1.25,1.5,1.75,2,2.25,2.5,2.75,3,3.25,3.5,3.75,4,4.25,4.5],"labels":false,"title":null,"domain":false,"tickSize":{"condition":{"test":"abs(datum.value-round(datum.value))<1e-6","value":-22},"value":-10}}},
"y":{"field":"lo","type":"quantitative","scale":{"type":"log","domain":[2e-12,2],"nice":false},"axis":null},
"color":{"field":"ch","type":"nominal","scale":{"domain":["PS","S","Vₓ","Aₓ","Tₜ","Xₜ","G","O"],"range":["#00ff00","#0000ff","#000000","#000000","#ff0000","#ff0000","#a0a0a0","#ffa500"]},"legend":null}
}},
{"mark":{"type":"tick","orient":"horizontal","size":22,"thickness":2,"clip":true},
"encoding":{
"x":{"field":"z","type":"quantitative","scale":{"domain":[-0.40,4.51],"zero":false,"nice":false},"axis":null},
"y":{"field":"hi","type":"quantitative","scale":{"type":"log","domain":[2e-12,2],"nice":false},"axis":null},
"color":{"field":"ch","type":"nominal","scale":{"domain":["PS","S","Vₓ","Aₓ","Tₜ","Xₜ","G","O"],"range":["#00ff00","#0000ff","#000000","#000000","#ff0000","#ff0000","#a0a0a0","#ffa500"]},"legend":null}
}},
{"data":{"name":"a3"},"transform":[{"filter":"datum.k == 'b'"}],
"mark":{"type":"text","align":"left","baseline":"alphabetic","fontSize":42,"fontWeight":"bold","color":"black"},
"encoding":{"x":{"field":"z","type":"quantitative","axis":null},"y":{"field":"v","type":"quantitative","axis":null},"text":{"field":"t"}}}
]
}
]
}
